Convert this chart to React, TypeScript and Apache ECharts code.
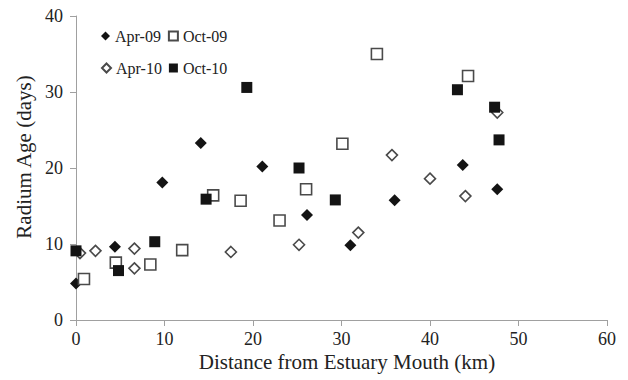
import React, { useEffect, useRef } from "react";
import * as echarts from "echarts";

const seriesNames = ["Apr-09", "Oct-09", "Apr-10", "Oct-10"];

const apr09: [number, number][] = [
  [0, 4.8], [4.4, 9.65], [9.75, 18.1], [14.1, 23.3], [21.05, 20.2],
  [26.1, 13.8], [31.0, 9.85], [36.0, 15.75], [43.7, 20.4], [47.6, 17.2],
];
const oct09: [number, number][] = [
  [0.9, 5.4], [4.5, 7.55], [8.4, 7.3], [12.0, 9.2], [15.5, 16.4], [18.6, 15.7],
  [23.0, 13.1], [26.0, 17.2], [30.1, 23.2], [34.0, 35.0], [44.3, 32.1],
];
const apr10: [number, number][] = [
  [0.45, 8.8], [2.2, 9.1], [6.6, 9.4], [6.6, 6.8], [17.5, 8.95], [25.2, 9.9],
  [31.9, 11.5], [35.7, 21.7], [40.0, 18.6], [44.0, 16.3], [47.6, 27.3],
];
const oct10: [number, number][] = [
  [0, 9.1], [4.8, 6.5], [8.9, 10.3], [14.7, 15.9], [19.3, 30.6], [25.2, 20.0],
  [29.3, 15.8], [43.1, 30.3], [47.3, 28.0], [47.8, 23.7],
];

const xTitle = "Distance from Estuary Mouth (km)";
const yTitle = "Radium Age (days)";

const FONT = "'Liberation Serif', 'Times New Roman', serif";

export default function App() {
  const ref = useRef<HTMLDivElement>(null);
  useEffect(() => {
    if (!ref.current) return;
    const chart = echarts.init(ref.current, undefined, { renderer: "svg" });
    const dark = "#141414";
    const outline = "#4a4a4a";
    chart.setOption({
      animation: false,
      backgroundColor: "#ffffff",
      grid: { left: 76, right: 21, top: 16, bottom: 60 },
      legend: [
        {
          data: [seriesNames[0], seriesNames[1]],
          left: 96, top: 23, itemWidth: 9, itemHeight: 9, itemGap: 7,
          textStyle: { fontFamily: FONT, fontSize: 16, color: "#222" },
        },
        {
          data: [seriesNames[2], seriesNames[3]],
          left: 96, top: 55, itemWidth: 9, itemHeight: 9, itemGap: 7,
          textStyle: { fontFamily: FONT, fontSize: 16, color: "#222" },
        },
      ],
      xAxis: {
        type: "value", min: 0, max: 60, interval: 10,
        axisLine: { show: true, lineStyle: { color: "#a0a0a0", width: 1 } },
        axisTick: { show: true, length: 6, lineStyle: { color: "#a0a0a0" } },
        axisLabel: { margin: 10, fontFamily: FONT, fontSize: 18, color: "#222" },
        splitLine: { show: false },
      },
      yAxis: {
        type: "value", min: 0, max: 40, interval: 10,
        axisLine: { show: true, lineStyle: { color: "#a0a0a0", width: 1 } },
        axisTick: { show: true, length: 6, lineStyle: { color: "#a0a0a0" } },
        axisLabel: { margin: 13, fontFamily: FONT, fontSize: 18, color: "#222" },
        splitLine: { show: false },
      },
      graphic: [
        {
          type: "text", x: 347, y: 362,
          style: { text: xTitle, font: `21px ${FONT}`, fill: "#222", align: "center", verticalAlign: "middle" },
        },
        {
          type: "text", x: 24, y: 157, rotation: Math.PI / 2,
          style: { text: yTitle, font: `21px ${FONT}`, fill: "#222", align: "center", verticalAlign: "middle" },
        },
      ],
      series: [
        {
          name: seriesNames[0], type: "scatter", data: apr09,
          symbol: "diamond", symbolSize: [12, 12],
          itemStyle: { color: dark, borderColor: dark, borderWidth: 0, opacity: 1 },
        },
        {
          name: seriesNames[1], type: "scatter", data: oct09,
          symbol: "rect", symbolSize: 11,
          itemStyle: { color: "#ffffff", borderColor: outline, borderWidth: 1.6, opacity: 1 },
        },
        {
          name: seriesNames[2], type: "scatter", data: apr10,
          symbol: "diamond", symbolSize: [11, 11],
          itemStyle: { color: "#ffffff", borderColor: outline, borderWidth: 1.6, opacity: 1 },
        },
        {
          name: seriesNames[3], type: "scatter", data: oct10,
          symbol: "rect", symbolSize: 11,
          itemStyle: { color: dark, borderColor: dark, borderWidth: 0, opacity: 1 },
        },
      ],
    });
    return () => chart.dispose();
  }, []);
  return <div ref={ref} style={{ width: 628, height: 380, position: "absolute", left: 0, top: 0 }} />;
}
